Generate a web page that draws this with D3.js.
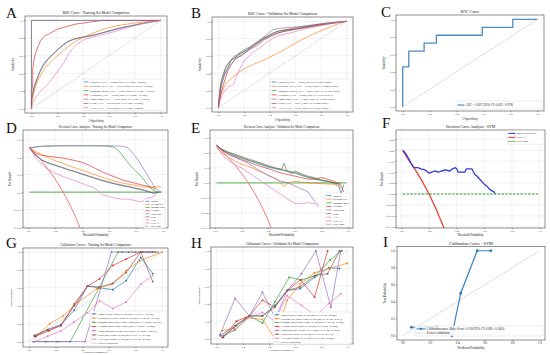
<!DOCTYPE html>
<html>
<head>
<script src="https://d3js.org/d3.v7.min.js"></script>
<style>
  body { margin: 0; background: #fff; }
  text { font-family: "Liberation Serif", "DejaVu Serif", serif; fill: #111; }
</style>
</head>
<body>
<div id="chart"></div>
<script>
// ---------- shared labels ----------
const models = ["Logistic", "Decision Tree", "Random Forest", "XGBoost", "LightGBM", "SVM", "ANN"];
const modelColors = ["#1f77b4", "#ff7f0e", "#2ca02c", "#d62728", "#9467bd", "#8c564b", "#e377c2"];
const unitTicks = [0, 0.2, 0.4, 0.6, 0.8, 1.0];

// AUC (train / validation) with CI
const aucTrain = [0.828, 0.819, 1.000, 0.950, 1.000, 0.832, 0.776];
const aucTrainLo = [0.782, 0.770, 1.000, 0.925, 1.000, 0.788, 0.725];
const aucTrainHi = [0.868, 0.866, 1.000, 0.972, 1.000, 0.874, 0.825];
const aucVal = [0.823, 0.706, 0.821, 0.820, 0.805, 0.833, 0.750];
const aucValLo = [0.768, 0.648, 0.768, 0.763, 0.750, 0.782, 0.690];
const aucValHi = [0.880, 0.763, 0.876, 0.871, 0.857, 0.883, 0.808];

// Brier scores (train / validation) with CI
const brierTrain = [0.155, 0.159, 0.026, 0.093, 0.010, 0.152, 0.168];
const brierTrainLo = [0.137, 0.141, 0.022, 0.083, 0.007, 0.133, 0.150];
const brierTrainHi = [0.174, 0.178, 0.031, 0.104, 0.013, 0.172, 0.186];
const brierVal = [0.158, 0.186, 0.160, 0.162, 0.171, 0.155, 0.176];
const brierValLo = [0.138, 0.162, 0.139, 0.140, 0.148, 0.135, 0.154];
const brierValHi = [0.180, 0.211, 0.182, 0.185, 0.195, 0.177, 0.199];

// ---------- A: ROC training ----------
const rocTrain = [
  [[0,0],[0,0.08],[0.01,0.15],[0.02,0.25],[0.04,0.33],[0.06,0.4],[0.08,0.47],[0.1,0.52],[0.13,0.57],[0.16,0.61],[0.2,0.66],[0.24,0.71],[0.28,0.76],[0.33,0.79],[0.4,0.81],[0.48,0.83],[0.55,0.86],[0.62,0.89],[0.7,0.92],[0.8,0.95],[0.9,0.98],[1,1]],
  [[0,0],[0.01,0.12],[0.03,0.25],[0.06,0.35],[0.1,0.45],[0.15,0.53],[0.2,0.6],[0.25,0.66],[0.3,0.72],[0.35,0.77],[0.42,0.82],[0.5,0.87],[0.58,0.91],[0.66,0.94],[0.75,0.96],[0.85,0.98],[1,1]],
  [[0,0],[0,1],[1,1]],
  [[0,0],[0,0.15],[0.01,0.3],[0.01,0.45],[0.02,0.55],[0.03,0.62],[0.05,0.7],[0.07,0.77],[0.1,0.82],[0.14,0.85],[0.2,0.9],[0.27,0.93],[0.35,0.96],[0.45,0.98],[0.55,1],[1,1]],
  [[0,0],[0,1],[1,1]],
  [[0,0],[0,0.1],[0.01,0.18],[0.03,0.27],[0.05,0.36],[0.07,0.43],[0.1,0.5],[0.13,0.56],[0.17,0.62],[0.21,0.68],[0.25,0.73],[0.3,0.77],[0.36,0.8],[0.43,0.82],[0.5,0.84],[0.58,0.87],[0.66,0.9],[0.75,0.93],[0.85,0.96],[1,1]],
  [[0,0],[0.01,0.06],[0.03,0.12],[0.06,0.18],[0.1,0.24],[0.14,0.3],[0.18,0.38],[0.22,0.46],[0.25,0.52],[0.28,0.6],[0.32,0.68],[0.36,0.74],[0.42,0.79],[0.5,0.82],[0.58,0.85],[0.66,0.88],[0.75,0.92],[0.85,0.96],[1,1]]
];

// ---------- B: ROC validation ----------
const rocVal = [
  [[0,0],[0.01,0.12],[0.02,0.25],[0.04,0.35],[0.06,0.42],[0.08,0.48],[0.1,0.55],[0.13,0.58],[0.16,0.62],[0.2,0.65],[0.24,0.69],[0.28,0.72],[0.32,0.76],[0.36,0.8],[0.4,0.83],[0.45,0.86],[0.5,0.88],[0.58,0.9],[0.66,0.93],[0.75,0.95],[0.85,0.97],[0.93,0.99],[1,1]],
  [[0,0],[0.01,0.1],[0.03,0.2],[0.06,0.28],[0.1,0.34],[0.15,0.4],[0.2,0.45],[0.27,0.5],[0.35,0.55],[0.42,0.6],[0.5,0.66],[0.57,0.72],[0.64,0.78],[0.72,0.84],[0.8,0.89],[0.88,0.94],[0.95,0.98],[1,1]],
  [[0,0],[0.01,0.15],[0.02,0.28],[0.04,0.38],[0.06,0.47],[0.09,0.53],[0.12,0.57],[0.15,0.6],[0.19,0.64],[0.23,0.67],[0.27,0.72],[0.31,0.76],[0.35,0.8],[0.4,0.84],[0.45,0.88],[0.52,0.9],[0.6,0.91],[0.7,0.94],[0.8,0.96],[0.9,0.98],[1,1]],
  [[0,0],[0.01,0.1],[0.03,0.22],[0.05,0.32],[0.07,0.42],[0.1,0.5],[0.13,0.56],[0.17,0.6],[0.21,0.64],[0.25,0.68],[0.3,0.72],[0.35,0.78],[0.4,0.82],[0.46,0.86],[0.52,0.89],[0.6,0.91],[0.7,0.93],[0.8,0.96],[0.9,0.98],[1,1]],
  [[0,0],[0.01,0.15],[0.03,0.3],[0.05,0.4],[0.08,0.47],[0.11,0.52],[0.14,0.58],[0.18,0.6],[0.22,0.65],[0.26,0.7],[0.3,0.75],[0.34,0.8],[0.38,0.85],[0.42,0.9],[0.48,0.92],[0.56,0.93],[0.65,0.94],[0.75,0.96],[0.85,0.98],[1,1]],
  [[0,0],[0.01,0.2],[0.02,0.3],[0.04,0.4],[0.06,0.48],[0.09,0.54],[0.12,0.59],[0.16,0.63],[0.2,0.67],[0.24,0.7],[0.28,0.74],[0.32,0.78],[0.37,0.82],[0.42,0.86],[0.48,0.89],[0.55,0.91],[0.65,0.94],[0.75,0.96],[0.85,0.98],[1,1]],
  [[0,0],[0.01,0.06],[0.03,0.15],[0.05,0.2],[0.08,0.24],[0.12,0.27],[0.14,0.36],[0.17,0.46],[0.2,0.54],[0.24,0.6],[0.28,0.65],[0.32,0.69],[0.37,0.75],[0.42,0.8],[0.48,0.84],[0.55,0.86],[0.62,0.89],[0.7,0.92],[0.8,0.95],[0.9,0.98],[1,1]]
];

// ---------- C: ROC SVM ----------
const rocSvm = [[0,0],[0,0.455],[0.045,0.455],[0.045,0.636],[0.159,0.636],[0.159,0.727],[0.25,0.727],[0.25,0.818],[0.591,0.818],[0.591,0.909],[0.818,0.909],[0.818,1],[1,1]];
const aucSvm = [0.827, 0.632, 0.978];

// ---------- D: decision curves training ----------
const dcaTrainTicks = [-0.2, -0.1, 0.0, 0.1, 0.2, 0.3];
const dcaTrain = [
  [[0.01,0.253],[0.05,0.215],[0.1,0.185],[0.15,0.165],[0.2,0.152],[0.25,0.14],[0.3,0.127],[0.35,0.115],[0.4,0.102],[0.45,0.09],[0.5,0.077],[0.55,0.065],[0.6,0.055],[0.65,0.045],[0.7,0.035],[0.75,0.03],[0.8,0.02],[0.85,0.012],[0.9,0.0],[0.93,-0.005],[0.97,0.0]],
  [[0.01,0.253],[0.05,0.235],[0.1,0.215],[0.15,0.198],[0.2,0.18],[0.3,0.152],[0.4,0.125],[0.5,0.098],[0.6,0.072],[0.7,0.052],[0.8,0.038],[0.86,0.03],[0.99,0.03]],
  [[0.01,0.253],[0.05,0.258],[0.1,0.262],[0.2,0.264],[0.3,0.265],[0.4,0.265],[0.5,0.265],[0.6,0.262],[0.64,0.255],[0.68,0.23],[0.72,0.19],[0.76,0.15],[0.8,0.12],[0.84,0.09],[0.88,0.05],[0.92,0.015],[0.96,0.0],[0.99,0.0]],
  [[0.01,0.253],[0.05,0.225],[0.1,0.21],[0.15,0.205],[0.2,0.2],[0.25,0.195],[0.3,0.188],[0.35,0.18],[0.4,0.17],[0.45,0.155],[0.5,0.135],[0.55,0.115],[0.6,0.1],[0.65,0.085],[0.7,0.07],[0.75,0.06],[0.8,0.05],[0.85,0.04],[0.9,0.03],[0.95,0.02]],
  [[0.01,0.253],[0.05,0.256],[0.1,0.262],[0.2,0.265],[0.3,0.265],[0.4,0.265],[0.5,0.265],[0.6,0.265],[0.7,0.262],[0.74,0.255],[0.78,0.22],[0.82,0.18],[0.86,0.13],[0.9,0.08],[0.93,0.04],[0.96,0.01],[0.99,0.0]],
  [[0.01,0.253],[0.05,0.212],[0.1,0.183],[0.15,0.167],[0.2,0.155],[0.25,0.142],[0.3,0.128],[0.35,0.118],[0.4,0.105],[0.45,0.092],[0.5,0.08],[0.55,0.068],[0.6,0.058],[0.65,0.048],[0.7,0.04],[0.75,0.032],[0.8,0.022],[0.85,0.015],[0.9,0.002],[0.94,-0.008],[0.97,0.0]],
  [[0.01,0.253],[0.05,0.2],[0.1,0.158],[0.15,0.128],[0.2,0.108],[0.25,0.092],[0.3,0.078],[0.35,0.064],[0.4,0.05],[0.45,0.035],[0.5,0.02],[0.55,-0.015],[0.6,-0.025],[0.65,-0.035],[0.7,-0.04],[0.75,-0.04],[0.8,-0.05],[0.85,-0.055],[0.88,-0.035],[0.92,-0.03],[0.95,-0.015]]
];
const dcaTrainAll = [[0.01,0.253],[0.05,0.221],[0.1,0.178],[0.15,0.129],[0.2,0.075],[0.25,0.013],[0.3,-0.057],[0.35,-0.138],[0.4,-0.233]];
const dcaTrainNone = [[0.01,0],[0.99,0]];

// ---------- E: decision curves validation ----------
const dcaValTicks = [-0.3, -0.2, -0.1, 0.0, 0.1, 0.2, 0.3];
const dcaVal = [
  [[0.01,0.25],[0.05,0.22],[0.1,0.2],[0.15,0.18],[0.2,0.165],[0.25,0.15],[0.3,0.135],[0.35,0.12],[0.4,0.105],[0.45,0.095],[0.5,0.085],[0.55,0.075],[0.6,0.065],[0.65,0.05],[0.7,0.035],[0.75,0.025],[0.8,0.015],[0.85,0.01],[0.9,-0.005],[0.93,-0.02],[0.95,-0.07],[0.97,-0.01]],
  [[0.01,0.24],[0.05,0.2],[0.1,0.17],[0.15,0.145],[0.2,0.125],[0.25,0.11],[0.3,0.09],[0.35,0.07],[0.4,0.05],[0.45,0.03],[0.5,0.0],[0.52,-0.025],[0.55,0.0],[0.6,0.01],[0.65,0.005],[0.7,0.0],[0.8,-0.005],[0.9,-0.01],[0.95,-0.03]],
  [[0.01,0.25],[0.05,0.222],[0.1,0.2],[0.15,0.183],[0.2,0.168],[0.25,0.152],[0.3,0.14],[0.35,0.125],[0.4,0.11],[0.45,0.1],[0.5,0.09],[0.55,0.08],[0.6,0.07],[0.65,0.055],[0.7,0.04],[0.75,0.03],[0.8,0.02],[0.85,0.01],[0.9,0.0],[0.95,0.0]],
  [[0.01,0.25],[0.05,0.218],[0.1,0.19],[0.15,0.172],[0.2,0.155],[0.25,0.14],[0.3,0.122],[0.35,0.108],[0.4,0.095],[0.45,0.08],[0.5,0.065],[0.55,0.055],[0.6,0.045],[0.65,0.035],[0.7,0.025],[0.75,0.025],[0.8,0.035],[0.83,0.03],[0.86,0.02],[0.9,0.01],[0.95,-0.02],[0.97,-0.06]],
  [[0.01,0.25],[0.05,0.215],[0.1,0.19],[0.15,0.17],[0.2,0.15],[0.25,0.13],[0.3,0.1],[0.35,0.075],[0.4,0.05],[0.45,0.03],[0.5,0.01],[0.55,0.0],[0.6,-0.02],[0.65,-0.04],[0.7,-0.06],[0.73,-0.1],[0.76,-0.13],[0.78,-0.15]],
  [[0.01,0.25],[0.05,0.225],[0.1,0.205],[0.15,0.19],[0.2,0.175],[0.25,0.16],[0.3,0.145],[0.35,0.13],[0.4,0.115],[0.45,0.1],[0.5,0.09],[0.52,0.13],[0.54,0.08],[0.58,0.06],[0.6,0.08],[0.65,0.06],[0.7,0.045],[0.75,0.035],[0.8,0.02],[0.85,0.01],[0.9,0.0],[0.95,-0.01]],
  [[0.01,0.24],[0.05,0.19],[0.1,0.15],[0.15,0.12],[0.2,0.1],[0.25,0.07],[0.3,0.04],[0.35,0.01],[0.4,-0.02],[0.45,-0.05],[0.5,-0.08],[0.55,-0.11],[0.6,-0.135],[0.65,-0.14],[0.7,-0.13],[0.75,-0.14],[0.78,-0.16]]
];
const dcaValAll = [[0.01,0.25],[0.05,0.211],[0.1,0.167],[0.15,0.118],[0.2,0.063],[0.25,0.0],[0.3,-0.071],[0.35,-0.154],[0.4,-0.25],[0.45,-0.364]];
const dcaValNone = [[0.01,0],[0.99,0]];

// ---------- F: decision curve SVM ----------
const dcaSvmTicks = [-0.15, -0.10, -0.05, 0.00, 0.05, 0.10, 0.15, 0.20, 0.25];
const dcaSvmModel = [[0.01,0.2],[0.03,0.185],[0.05,0.165],[0.07,0.14],[0.09,0.12],[0.12,0.12],[0.14,0.115],[0.17,0.11],[0.19,0.1],[0.2,0.095],[0.22,0.1],[0.24,0.105],[0.27,0.1],[0.29,0.105],[0.32,0.11],[0.35,0.105],[0.37,0.115],[0.39,0.12],[0.4,0.115],[0.41,0.1],[0.46,0.1],[0.47,0.115],[0.51,0.115],[0.53,0.09],[0.55,0.08],[0.57,0.065],[0.6,0.045],[0.62,0.035],[0.64,0.02],[0.67,0.01],[0.68,0.0]];
const dcaSvmAll = [[0.01,0.198],[0.05,0.158],[0.1,0.111],[0.15,0.059],[0.2,0.0],[0.25,-0.067],[0.3,-0.143],[0.32,-0.176]];
const dcaSvmNone = [[0.01,0],[0.99,0]];

// ---------- G: calibration training ----------
const calTrain = [
  [[0.04,0.06],[0.14,0.135],[0.24,0.19],[0.34,0.35],[0.44,0.62],[0.53,0.6],[0.63,0.58],[0.73,0.68],[0.84,0.94],[0.93,0.76]],
  [[0.05,0.05],[0.155,0.2],[0.255,0.285],[0.37,0.44],[0.51,0.59],[0.62,0.64],[0.73,0.79],[0.83,0.9],[1.0,1.0]],
  [[0.04,0],[0.13,0],[0.22,0],[0.31,0],[0.67,1],[0.75,1],[0.85,1],[0.95,1]],
  [[0.05,0.06],[0.15,0.12],[0.24,0.18],[0.34,0.4],[0.44,0.62],[0.53,0.7],[0.63,0.85],[0.73,0.92],[0.84,1.0],[0.93,1.0]],
  [[0.03,0],[0.12,0],[0.21,0],[0.31,0],[0.42,0],[0.62,1],[0.7,1],[0.8,1],[0.9,1],[0.97,1]],
  [[0.04,0.07],[0.14,0.13],[0.24,0.18],[0.34,0.42],[0.44,0.62],[0.53,0.61],[0.63,0.65],[0.73,0.77],[0.84,1.0],[0.93,0.67]],
  [[0.04,0.0],[0.14,0.06],[0.24,0.12],[0.34,0.22],[0.44,0.32],[0.53,0.455],[0.63,0.37],[0.73,0.44],[0.84,0.64],[0.93,0.74]]
];

// ---------- H: calibration validation ----------
const calVal = [
  [[0.025,0.035],[0.14,0.15],[0.25,0.26],[0.35,0.26],[0.445,0.38],[0.54,0.55],[0.64,0.57],[0.75,0.7],[0.86,0.81],[0.94,0.8]],
  [[0.04,0.09],[0.13,0.12],[0.22,0.24],[0.35,0.22],[0.445,0.0],[0.54,0.44],[0.64,0.62],[0.75,0.75],[0.86,0.8],[1.0,0.86]],
  [[0.05,0.03],[0.14,0.1],[0.25,0.26],[0.35,0.18],[0.445,0.42],[0.555,0.7],[0.65,0.67],[0.76,0.72],[0.87,0.9],[0.96,1.0]],
  [[0.05,0.015],[0.15,0.2],[0.25,0.26],[0.35,0.44],[0.445,0.36],[0.54,0.55],[0.64,0.67],[0.75,0.475],[0.85,1.0]],
  [[0.025,0.05],[0.14,0.46],[0.25,0.26],[0.35,0.53],[0.45,0.23],[0.54,0.55],[0.65,0.74],[0.76,1.0],[0.875,0.36],[0.95,1.0]],
  [[0.04,0.015],[0.15,0.15],[0.25,0.26],[0.35,0.26],[0.445,0.36],[0.54,0.55],[0.64,0.59],[0.75,0.72],[0.85,0.74],[0.94,1.0]],
  [[0.04,0.035],[0.14,0.11],[0.25,0.245],[0.35,0.3],[0.445,0.2],[0.54,0.49],[0.65,0.38],[0.76,0.26],[0.86,0.4],[0.95,0.51]]
];

// ---------- I: calibration SVM ----------
const calSvm = [[0.065,0.1],[0.25,0.105],[0.36,0.0],[0.425,0.5],[0.545,1.0],[0.645,1.0]];
const brierSvm = [0.118, 0.085, 0.160];

const diagonal = [[0,0],[1,1]];

// ---------- helpers ----------
const svg = d3.select("#chart").append("svg")
  .attr("width", 550)
  .attr("height", 355)
  .style("display", "block");

const f3 = d3.format(".3f");

function panel(o) {
  const g = svg.append("g").attr("transform", `translate(${o.x},${o.y})`);
  const xs = d3.scaleLinear().domain(o.xDomain).range([0, o.w]);
  const ys = d3.scaleLinear().domain(o.yDomain).range([o.h, 0]);
  const clipId = "clip" + o.letter;
  g.append("clipPath").attr("id", clipId)
    .append("rect").attr("width", o.w).attr("height", o.h);

  if (o.grid) {
    g.append("g").selectAll("line").data(o.xTicks).enter().append("line")
      .attr("x1", d => xs(d)).attr("x2", d => xs(d))
      .attr("y1", 0).attr("y2", o.h)
      .attr("stroke", "#e3e3e3").attr("stroke-width", 0.45);
    g.append("g").selectAll("line").data(o.yTicks).enter().append("line")
      .attr("x1", 0).attr("x2", o.w)
      .attr("y1", d => ys(d)).attr("y2", d => ys(d))
      .attr("stroke", "#e3e3e3").attr("stroke-width", 0.45);
  }

  const tfs = o.tickFont || 2.9;
  const lfs = o.labelFont || 3;
  const xa = g.append("g").attr("transform", `translate(0,${o.h})`)
    .call(d3.axisBottom(xs).tickValues(o.xTicks).tickFormat(d3.format(o.xFmt || ".1f")).tickSize(1.3).tickPadding(0.8));
  const ya = g.append("g")
    .call(d3.axisLeft(ys).tickValues(o.yTicks).tickFormat(d3.format(o.yFmt || ".1f")).tickSize(1.3).tickPadding(0.8));
  [xa, ya].forEach(a => {
    a.select(".domain").remove();
    a.selectAll("line").attr("stroke", "#222").attr("stroke-width", 0.4);
    a.selectAll("text").attr("font-size", tfs).attr("font-family", "Liberation Serif");
  });

  g.append("rect").attr("width", o.w).attr("height", o.h)
    .attr("fill", "none").attr("stroke", "#222").attr("stroke-width", 0.5);

  g.append("text").attr("x", o.w / 2).attr("y", -1.8)
    .attr("text-anchor", "middle").attr("font-size", o.titleFont || 3.6)
    .text(o.title);
  g.append("text").attr("x", o.w / 2).attr("y", o.h + (o.xLabelOff || (3.5 + tfs + lfs)))
    .attr("text-anchor", "middle").attr("font-size", lfs)
    .text(o.xLabel);
  g.append("text").attr("transform", `translate(${-(o.yLabelOff || 11)},${o.h / 2}) rotate(-90)`)
    .attr("text-anchor", "middle").attr("font-size", lfs)
    .text(o.yLabel);

  svg.append("text").attr("x", o.lx).attr("y", o.ly)
    .attr("font-size", 15).attr("font-family", "Liberation Serif")
    .text(o.letter);

  const plot = g.append("g").attr("clip-path", `url(#${clipId})`);
  return { g, plot, xs, ys };
}

function drawLine(p, data, color, width, dash, opacity) {
  const line = d3.line().x(d => p.xs(d[0])).y(d => p.ys(d[1]));
  p.plot.append("path").datum(data)
    .attr("d", line)
    .attr("fill", "none")
    .attr("stroke", color)
    .attr("stroke-width", width)
    .attr("stroke-opacity", opacity == null ? 1 : opacity)
    .attr("stroke-linejoin", "round")
    .attr("stroke-dasharray", dash || null);
}

function drawMarkers(p, data, color, r) {
  p.plot.append("g").selectAll("circle").data(data).enter().append("circle")
    .attr("cx", d => p.xs(d[0])).attr("cy", d => p.ys(d[1]))
    .attr("r", r).attr("fill", color);
}

function legend(p, x, y, w, entries, o) {
  const lg = p.g.append("g").attr("transform", `translate(${x},${y})`);
  lg.append("rect").attr("width", w).attr("height", entries.length * o.lh + 1.6)
    .attr("rx", 0.8).attr("fill", "#fff").attr("fill-opacity", 0.85)
    .attr("stroke", "#cfcfcf").attr("stroke-width", 0.4);
  entries.forEach((e, i) => {
    const cy = 0.8 + o.lh * (i + 0.5);
    lg.append("line").attr("x1", 1.5).attr("x2", 1.5 + o.sw)
      .attr("y1", cy).attr("y2", cy)
      .attr("stroke", e.color).attr("stroke-width", e.width || 0.7)
      .attr("stroke-dasharray", e.dash || null);
    if (e.marker) {
      lg.append("circle").attr("cx", 1.5 + o.sw / 2).attr("cy", cy)
        .attr("r", e.marker).attr("fill", e.color);
    }
    lg.append("text").attr("x", 2.8 + o.sw).attr("y", cy).attr("dy", "0.35em")
      .attr("font-size", o.fs).text(e.label);
  });
}

// ---------- A ----------
const pA = panel({ letter: "A", lx: 6, ly: 18, x: 25, y: 16, w: 142, h: 97,
  xDomain: [-0.05, 1.05], yDomain: [-0.05, 1.05], xTicks: unitTicks, yTicks: unitTicks, grid: true,
  title: "ROC Curve - Training Set Model Comparison", xLabel: "1-Specificity", yLabel: "Sensitivity" });
drawLine(pA, diagonal, "#aaa", 0.5, "2,1");
rocTrain.forEach((d, i) => drawLine(pA, d, modelColors[i], 0.65));
legend(pA, 57, 63, 84, models.map((m, i) => ({ color: modelColors[i],
  label: `${m} (AUC = ${f3(aucTrain[i])} (95% CI: ${f3(aucTrainLo[i])} - ${f3(aucTrainHi[i])}))` })),
  { lh: 4.3, fs: 2.9, sw: 5 });

// ---------- B ----------
const pB = panel({ letter: "B", lx: 191, ly: 18, x: 212, y: 17, w: 141, h: 95,
  xDomain: [-0.05, 1.05], yDomain: [-0.05, 1.05], xTicks: unitTicks, yTicks: unitTicks, grid: true,
  title: "ROC Curve - Validation Set Model Comparison", xLabel: "1-Specificity", yLabel: "Sensitivity" });
drawLine(pB, diagonal, "#aaa", 0.5, "2,1");
rocVal.forEach((d, i) => drawLine(pB, d, modelColors[i], 0.65));
legend(pB, 58, 62, 81, models.map((m, i) => ({ color: modelColors[i],
  label: `${m} (AUC = ${f3(aucVal[i])}, 95% CI: ${f3(aucValLo[i])}-${f3(aucValHi[i])})` })),
  { lh: 4.3, fs: 2.9, sw: 5 });

// ---------- C ----------
const pC = panel({ letter: "C", lx: 381, ly: 17, x: 396, y: 15, w: 148, h: 96,
  xDomain: [-0.05, 1.05], yDomain: [-0.05, 1.05], xTicks: unitTicks, yTicks: unitTicks, grid: false,
  title: "ROC Curve", titleFont: 4, xLabel: "1-Specificity", yLabel: "Sensitivity" });
drawLine(pC, diagonal, "#999", 0.5, "2,1.2");
drawLine(pC, rocSvm, "#4a8cc6", 1.3);
legend(pC, 60, 86, 86, [{ color: "#4a8cc6", width: 1.2,
  label: `AUC = ${f3(aucSvm[0])} (95% CI: ${f3(aucSvm[1])} - ${f3(aucSvm[2])})` }],
  { lh: 6.5, fs: 3.1, sw: 7 });

// ---------- D ----------
const pD = panel({ letter: "D", lx: 6, ly: 133, x: 23, y: 130, w: 145, h: 98,
  xDomain: [-0.039, 1.039], yDomain: [-0.205, 0.355], xTicks: unitTicks, yTicks: dcaTrainTicks, grid: true,
  title: "Decision Curve Analysis - Training Set Model Comparison", titleFont: 3.1,
  xLabel: "Threshold Probability", yLabel: "Net Benefit", yLabelOff: 12, xLabelOff: 8.3 });
drawLine(pD, dcaTrainNone, "#2ca02c", 0.8);
drawLine(pD, dcaTrainAll, "#f07070", 0.9);
dcaTrain.forEach((d, i) => drawLine(pD, d, modelColors[i], 0.65));
legend(pD, 121, 69, 21, models.map((m, i) => ({ color: modelColors[i], label: m }))
  .concat([{ color: "#f07070", label: "Treat All" }, { color: "#2ca02c", dash: "1.2,0.8", label: "Treat None" }]),
  { lh: 3.1, fs: 2.3, sw: 4 });

// ---------- E ----------
const pE = panel({ letter: "E", lx: 191, ly: 133, x: 210, y: 130, w: 143, h: 98,
  xDomain: [-0.039, 1.039], yDomain: [-0.3, 0.352], xTicks: unitTicks, yTicks: dcaValTicks, grid: true,
  title: "Decision Curve Analysis - Validation Set Model Comparison", titleFont: 3.1,
  xLabel: "Threshold Probability", yLabel: "Net Benefit", yLabelOff: 12, xLabelOff: 8.3 });
drawLine(pE, dcaValNone, "#2ca02c", 0.8);
drawLine(pE, dcaValAll, "#f07070", 0.9);
dcaVal.forEach((d, i) => drawLine(pE, d, modelColors[i], 0.65));
legend(pE, 115, 63, 25, models.map((m, i) => ({ color: modelColors[i], label: m }))
  .concat([{ color: "#f07070", label: "Treat All" }, { color: "#2ca02c", dash: "1.2,0.8", label: "Treat None" }]),
  { lh: 3.6, fs: 2.6, sw: 5 });

// ---------- F ----------
const pF = panel({ letter: "F", lx: 382, ly: 128, x: 396, y: 130, w: 149, h: 98,
  xDomain: [-0.039, 1.039], yDomain: [-0.155, 0.292], xTicks: unitTicks, yTicks: dcaSvmTicks, yFmt: ".2f", grid: true,
  title: "Decision Curve Analysis - SVM", titleFont: 3.8,
  xLabel: "Threshold Probability", yLabel: "Net Benefit", yLabelOff: 13, xLabelOff: 8.3 });
drawLine(pF, dcaSvmAll, "#e8413a", 1.3);
drawLine(pF, dcaSvmModel, "#3939d6", 1.3);
drawLine(pF, dcaSvmNone, "#2ca02c", 1.0, "2.4,1.4");
legend(pF, 111, 0.6, 37, [
  { color: "#3939d6", width: 1.1, label: "Model Net Benefit" },
  { color: "#e8413a", width: 1.1, label: "Treat All" },
  { color: "#2ca02c", width: 1.0, dash: "1.6,1", label: "Treat None" }],
  { lh: 4, fs: 2.6, sw: 7 });

// ---------- G ----------
const pG = panel({ letter: "G", lx: 6, ly: 248, x: 23, y: 248, w: 145, h: 99,
  xDomain: [-0.045, 1.045], yDomain: [-0.06, 1.045], xTicks: unitTicks, yTicks: unitTicks, grid: true,
  title: "Calibration Curves - Training Set Model Comparison", titleFont: 3.3,
  xLabel: "Predicted Probability", yLabel: "True Probability", xLabelOff: 6.2, labelFont: 2.8 });
drawLine(pG, diagonal, "#aaa", 0.5, "1.5,1");
calTrain.forEach((d, i) => {
  drawLine(pG, d, modelColors[i], 0.65);
  drawMarkers(pG, d, modelColors[i], 0.9);
});
legend(pG, 67, 63, 77, models.map((m, i) => ({ color: modelColors[i], marker: 0.7,
  label: `${m} (Brier Score: ${f3(brierTrain[i])} (95% CI: ${f3(brierTrainLo[i])} - ${f3(brierTrainHi[i])}))` }))
  .concat([{ color: "#aaa", dash: "1.2,0.8", label: "Perfect Calibration" }]),
  { lh: 4.2, fs: 2.6, sw: 5 });

// ---------- H ----------
const pH = panel({ letter: "H", lx: 191, ly: 248, x: 211, y: 247, w: 142, h: 97,
  xDomain: [-0.045, 1.045], yDomain: [-0.06, 1.045], xTicks: unitTicks, yTicks: unitTicks, grid: true,
  title: "Calibration Curves - Validation Set Model Comparison", titleFont: 3.3,
  xLabel: "Predicted Probability", yLabel: "True Probability", xLabelOff: 7, labelFont: 2.8 });
drawLine(pH, diagonal, "#aaa", 0.5, "1.5,1");
calVal.forEach((d, i) => {
  drawLine(pH, d, modelColors[i], 0.65);
  drawMarkers(pH, d, modelColors[i], 0.9);
});
legend(pH, 62, 65, 78, models.map((m, i) => ({ color: modelColors[i], marker: 0.7,
  label: `${m} (Brier Score: ${f3(brierVal[i])} (95% CI: ${f3(brierValLo[i])} - ${f3(brierValHi[i])}))` }))
  .concat([{ color: "#aaa", dash: "1.2,0.8", label: "Perfect Calibration" }]),
  { lh: 3.9, fs: 2.6, sw: 5 });

// ---------- I ----------
const pI = panel({ letter: "I", lx: 383, ly: 247, x: 397, y: 246.5, w: 148, h: 93.5,
  xDomain: [-0.04, 1.04], yDomain: [-0.05, 1.05], xTicks: unitTicks, yTicks: unitTicks, grid: false,
  title: "Calibration Curve - SVM", titleFont: 4.3,
  xLabel: "Predicted Probability", yLabel: "True Probability", tickFont: 3.1, labelFont: 3.2, xLabelOff: 8.6 });
drawLine(pI, diagonal, "#999", 0.5, "1.6,1");
drawLine(pI, calSvm, "#2e7fbf", 1.2);
drawMarkers(pI, calSvm, "#2e7fbf", 1.4);
legend(pI, 18, 79.5, 128, [
  { color: "#2e7fbf", width: 1.1, marker: 1.1,
    label: `Calibration curve (Brier Score: ${f3(brierSvm[0])} (95% CI: ${f3(brierSvm[1])} - ${f3(brierSvm[2])}))` },
  { color: "#999", width: 0.5, dash: "1.6,1", label: "Perfect calibration" }],
  { lh: 4.2, fs: 3.1, sw: 9 });
</script>
</body>
</html>
